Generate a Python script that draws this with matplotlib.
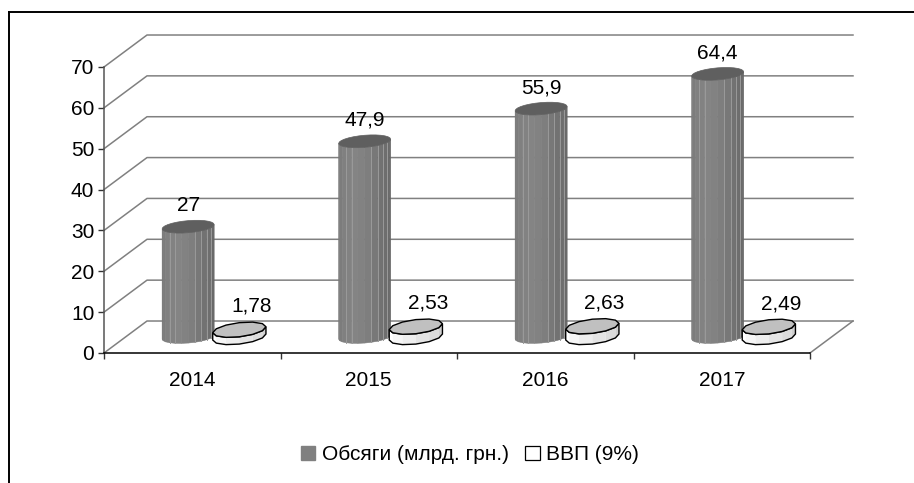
#!/usr/bin/env python3
import matplotlib
matplotlib.use('Agg')
import matplotlib.pyplot as plt
from matplotlib.lines import Line2D
from matplotlib.patches import Patch, Polygon
import numpy as np

years = ["2014", "2015", "2016", "2017"]
volumes = [27, 47.9, 55.9, 64.4]
gdp = [1.78, 2.53, 2.63, 2.49]
volume_labels = ["27", "47,9", "55,9", "64,4"]
gdp_labels = ["1,78", "2,53", "2,63", "2,49"]
y_ticks = [0, 10, 20, 30, 40, 50, 60, 70]

W, H = 914, 483
DEPTH_X = 0.2436   # floor depth in category units
DEPTH_Y = 7.83     # floor depth in value units
OFFSET = 0.145
RX = 0.139
RD_COL = 0.2
RD_DISC = 0.24

plt.rcParams['font.family'] = ['Liberation Sans', 'DejaVu Sans']
plt.rcParams['font.size'] = 15

fig = plt.figure(figsize=(W / 100, H / 100), dpi=100)
ax = fig.add_axes([104 / W, (H - 353) / H, 706 / W, 286 / H])
ax.set_xlim(-0.5, 3.5)
ax.set_ylim(0, 70)

# frame: only top and left sides show
fig.add_artist(Line2D([9 / W, 9 / W], [0, 1 - 12 / H], color="black", lw=1.4))
fig.add_artist(Line2D([9 / W, 1], [1 - 12 / H, 1 - 12 / H], color="black", lw=1.4))

# walls
for v in y_ticks:
    ax.plot([-0.5, -0.5 + DEPTH_X, 3.5 + DEPTH_X], [v, v + DEPTH_Y, v + DEPTH_Y],
            color="#808080", lw=1.1, clip_on=False, zorder=1)
ax.plot([3.5, 3.5 + DEPTH_X], [0, DEPTH_Y], color="#808080", lw=1.1, clip_on=False, zorder=1)


def ring(cx, y, n, rd, phase=None):
    # circle lying on the floor plane, seen in the oblique projection
    start = np.pi / n if phase is None else phase
    t = np.linspace(0, 2 * np.pi, n, endpoint=False) + start
    px = cx + DEPTH_X * 0.5 + RX * np.cos(t) + rd * DEPTH_X * np.sin(t)
    py = y + DEPTH_Y * 0.5 + rd * DEPTH_Y * np.sin(t)
    return px, py


def front_arc(cx, n, rd):
    # angles from leftmost to rightmost point going round the front
    t0 = np.arctan2(rd * DEPTH_X, RX)
    t = np.linspace(np.pi + t0, 2 * np.pi + t0, n + 1)
    px = cx + DEPTH_X * 0.5 + RX * np.cos(t) + rd * DEPTH_X * np.sin(t)
    py = DEPTH_Y * 0.5 + rd * DEPTH_Y * np.sin(t)
    return px, py


def draw_column(cx, v):
    px, py = front_arc(cx, 12, RD_COL)
    shades = ["#787878", "#7c7c7c", "#808080", "#828282", "#848484", "#828282",
              "#7e7e7e", "#787878", "#727272", "#6e6e6e", "#6a6a6a", "#666666"]
    for i in range(12):
        ax.add_patch(Polygon([(px[i], py[i]), (px[i + 1], py[i + 1]),
                              (px[i + 1], py[i + 1] + v), (px[i], py[i] + v)],
                             fc=shades[i], ec=shades[i], lw=0.4, clip_on=False, zorder=3))
    for k in [3, 4, 7, 8, 9, 10]:
        ax.plot([px[k], px[k]], [py[k], py[k] + v], color="#9a9a9a", lw=0.7,
                clip_on=False, zorder=3.5)
    tx, ty = ring(cx, v, 28, RD_COL)
    ax.add_patch(Polygon(np.column_stack([tx, ty]), fc="#5f5f5f", ec="#5f5f5f", lw=0.5,
                         clip_on=False, zorder=4))


def draw_disc(cx, v):
    px, py = front_arc(cx, 6, RD_DISC)
    shades = ["#ffffff", "#f6f6f6", "#eeeeee", "#e4e4e4", "#dcdcdc", "#d0d0d0"]
    for i in range(6):
        ax.add_patch(Polygon([(px[i], py[i]), (px[i + 1], py[i + 1]),
                              (px[i + 1], py[i + 1] + v), (px[i], py[i] + v)],
                             fc=shades[i], ec="none", clip_on=False, zorder=5))
    outline = np.column_stack([np.r_[px, px[::-1]], np.r_[py, py[::-1] + v]])
    ax.add_patch(Polygon(outline, fc="none", ec="black", lw=1.0, clip_on=False, zorder=6))
    tx, ty = ring(cx, v, 12, RD_DISC, phase=np.arctan2(RD_DISC * DEPTH_X, RX))
    ax.add_patch(Polygon(np.column_stack([tx, ty]), fc="#c0c0c0", ec="black", lw=1.0,
                         clip_on=False, zorder=7))


for i in range(len(years)):
    draw_column(i - OFFSET, volumes[i])
    draw_disc(i + OFFSET, gdp[i])
    ax.text(i - OFFSET + DEPTH_X * 0.5, volumes[i] + DEPTH_Y * 0.5 + 5.1, volume_labels[i],
            ha="center", va="center", zorder=8)
    ax.text(i + OFFSET + DEPTH_X * 0.5 + 0.068, gdp[i] + DEPTH_Y * 0.5 + 5.7, gdp_labels[i],
            ha="center", va="center", zorder=8)

# axes
for s in ["top", "right"]:
    ax.spines[s].set_visible(False)
ax.spines["left"].set_color("#555555")
ax.spines["left"].set_linewidth(1.1)
ax.spines["bottom"].set_color("black")
ax.spines["bottom"].set_linewidth(1.1)
ax.patch.set_visible(False)
ax.set_yticks(y_ticks)
ax.tick_params(axis="y", length=4, width=1, color="#333333", pad=3)
ax.set_xticks(np.arange(-0.5, 4, 1))
ax.set_xticklabels([])
ax.set_xticks(np.arange(len(years)), minor=True)
ax.set_xticklabels(years, minor=True)
ax.tick_params(axis="x", which="major", length=4, width=1, color="#333333")
ax.tick_params(axis="x", which="minor", length=0, pad=13)

handles = [Patch(fc="#808080", ec="#808080", label="Обсяги (млрд. грн.)"),
           Patch(fc="white", ec="black", lw=0.9, label="ВВП (9%)")]
fig.legend(handles=handles, loc="center", bbox_to_anchor=(470 / W, 1 - 455 / H), ncol=2, frameon=False,
           handlelength=0.68, handleheight=0.68, handletextpad=0.3, columnspacing=0.8,
           borderpad=0, borderaxespad=0)

plt.savefig("out.png", dpi=100)
plt.close()
print("Saved out.png")
